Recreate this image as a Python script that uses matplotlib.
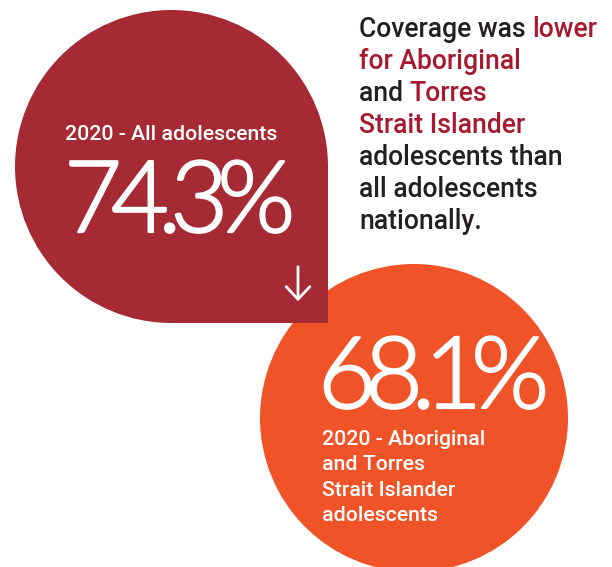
import matplotlib
matplotlib.use('Agg')
import matplotlib.pyplot as plt
import matplotlib.patheffects as pe
from matplotlib.patches import Circle, Rectangle

# data
years = ['2020', '2020']
groups = ['All adolescents', 'Aboriginal\nand Torres\nStrait Islander\nadolescents']
coverage = [74.3, 68.1]
colours = ['#A52A33', '#F05327']

headline = [
    [('Coverage was ', 'k'), ('lower', 'r')],
    [('for Aboriginal', 'r')],
    [('and ', 'k'), ('Torres', 'r')],
    [('Strait Islander', 'r')],
    [('adolescents than', 'k')],
    [('all adolescents', 'k')],
    [('nationally.', 'k')],
]
text_cols = {'k': '#231F20', 'r': '#A6192E'}

W, H = 612, 567
fig = plt.figure(figsize=(W / 100, H / 100), dpi=100)
ax = fig.add_axes([0, 0, 1, 1])
ax.set_xlim(0, W)
ax.set_ylim(H, 0)
ax.axis('off')

label_font = 'Roboto'
num_font = 'Lato'

fig.canvas.draw()
renderer = fig.canvas.get_renderer()


def tight_text(x, y, s, track, **kw):
    # draw a string char by char with negative tracking
    for i, ch in enumerate(s):
        pre = ax.text(0, 0, s[:i + 1], **kw)
        one = ax.text(0, 0, ch, **kw)
        off = pre.get_window_extent(renderer).width - one.get_window_extent(renderer).width
        pre.remove()
        one.remove()
        t = ax.text(x + off - i * track, y, ch, **kw)
        t.set_path_effects([pe.withStroke(linewidth=1.6, foreground='white')])


# orange circle (drawn first, the drop sits on top of it)
ax.add_patch(Circle((414, 418), 154, color=colours[1], lw=0))

# dark red drop: circle with a squared bottom-right corner
cx, cy, r = 171.5, 166.5, 156.5
ax.add_patch(Circle((cx, cy), r, color=colours[0], lw=0))
ax.add_patch(Rectangle((cx, cy), r, r, color=colours[0], lw=0))

# arrow
ax.annotate('', xy=(298, 304), xytext=(298, 264),
            arrowprops=dict(arrowstyle='->,head_length=0.9,head_width=0.85',
                            color='white', lw=2))

num_kw = dict(color='white', fontsize=72, family=num_font, weight=300, va='baseline')

# drop labels
ax.text(65, 140, f'{years[0]} - {groups[0]}', color='white', fontsize=15.3,
        family=label_font, weight='medium', va='baseline')
tight_text(64, 232, f'{coverage[0]}%', 11, **num_kw)

# circle labels
tight_text(318, 408, f'{coverage[1]}%', 11, **num_kw)
ax.text(322, 430, f'{years[1]} - {groups[1]}', color='white', fontsize=15.3,
        family=label_font, weight='medium', va='top', linespacing=1.42)

# headline with coloured words
y = 37
for line in headline:
    x = 359
    for seg, c in line:
        t = ax.text(x, y, seg, color=text_cols[c], fontsize=19.1,
                    family=label_font, weight='medium', va='baseline')
        bb = t.get_window_extent(renderer)
        x += bb.width
    y += 32

fig.savefig('out.png', dpi=100)
